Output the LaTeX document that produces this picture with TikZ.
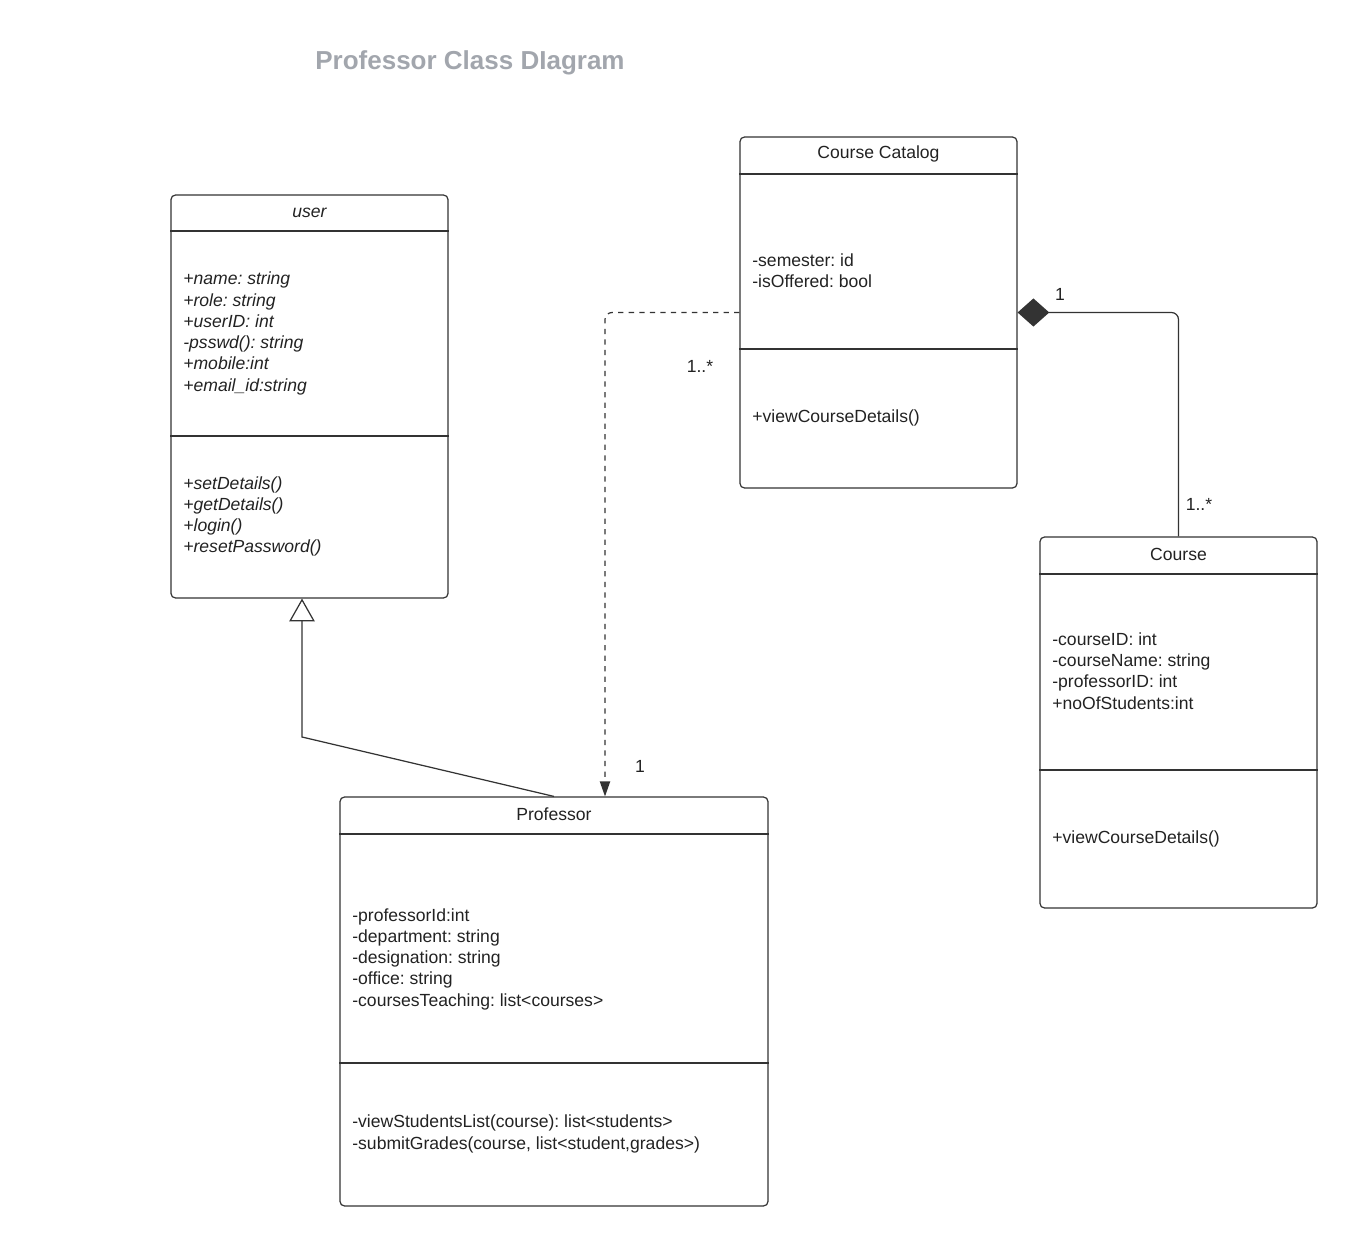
\documentclass[tikz,border=0pt]{standalone}
\usepackage{fontspec}
\setmainfont{Liberation Sans}
\frenchspacing
\usepackage{tikz}
\usetikzlibrary{arrows.meta,calc}

\definecolor{umlline}{HTML}{333333}
\definecolor{umltext}{HTML}{222222}
\definecolor{umltitle}{HTML}{A2A6AD}

\tikzset{
	classbox/.style={draw=umlline, line width=0.7pt, rounded corners=2.5pt, minimum width=5.54cm, inner sep=0pt},
	classname/.style={text=umltext, inner sep=0pt, font=\fontsize{10}{12.1}\selectfont},
	members/.style={anchor=west, align=left, inner sep=0pt, text=umltext, font=\fontsize{10}{12.1}\selectfont},
	mult/.style={text=umltext, inner sep=0pt, font=\fontsize{10}{12.1}\selectfont},
	divider/.style={draw=umlline, line width=0.7pt},
	link/.style={draw=umlline, line width=0.7pt, rounded corners=4pt}
}

\begin{document}
\begin{tikzpicture}[x=0.02cm, y=-0.02cm]
	\useasboundingbox (0,0) rectangle (1360,1247);
	\node [text=umltitle, font=\fontsize{14.8}{17}\selectfont\bfseries] (title) at (470,63) {Professor Class DIagram};

	% user
	\node [classbox, minimum height=8.06cm] (user) at (309.5,396.5) {};
	\node [classname, font=\fontsize{10}{12.1}\selectfont\itshape] (usern) at ($(user.north)+(0,18)$) {user};
	\draw [divider] (user.west |- 0,231) -- (user.east |- 0,231);
	\draw [divider] (user.west |- 0,436) -- (user.east |- 0,436);
	\node [members, font=\fontsize{10}{12.1}\selectfont\itshape] (usera) at (183,333.5) {+name: string\\+role: string\\+userID: int\\-psswd(): string\\+mobile:int\\+email\_id:string};
	\node [members, font=\fontsize{10}{12.1}\selectfont\itshape] (userm) at (183,516.5) {+setDetails()\\+getDetails()\\+login()\\+resetPassword()};

	% Course Catalog
	\node [classbox, minimum height=7.02cm] (cat) at (878.5,312.5) {};
	\node [classname] (catn) at ($(cat.north)+(0,18)$) {Course Catalog};
	\draw [divider] (cat.west |- 0,174) -- (cat.east |- 0,174);
	\draw [divider] (cat.west |- 0,349) -- (cat.east |- 0,349);
	\node [members] (cata) at (752,270.5) {-semester: id\\-isOffered: bool};
	\node [members] (catm) at (752,418) {+viewCourseDetails()};

	% Course
	\node [classbox, minimum height=7.42cm] (course) at (1178.5,722.5) {};
	\node [classname] (coursen) at ($(course.north)+(0,18)$) {Course};
	\draw [divider] (course.west |- 0,574) -- (course.east |- 0,574);
	\draw [divider] (course.west |- 0,770) -- (course.east |- 0,770);
	\node [members] (coursea) at (1052,671) {-courseID: int\\-courseName: string\\-professorID: int\\+noOfStudents:int};
	\node [members] (coursem) at (1052,839) {+viewCourseDetails()};

	% Professor
	\node [classbox, minimum width=8.56cm, minimum height=8.18cm] (prof) at (554,1001.5) {};
	\node [classname] (profn) at ($(prof.north)+(0,18)$) {Professor};
	\draw [divider] (prof.west |- 0,834) -- (prof.east |- 0,834);
	\draw [divider] (prof.west |- 0,1063) -- (prof.east |- 0,1063);
	\node [members] (profa) at (352,959) {-professorId:int\\-department: string\\-designation: string\\-office: string\\-coursesTeaching: list<courses>};
	\node [members] (profm) at (352,1134) {-viewStudentsList(course): list<students>\\-submitGrades(course, list<student,grades>)};

	% connectors
	\coordinate (gen) at ($(user.south)+(-7.5,0)$);
	\coordinate (dep) at ($(prof.north)+(51,0)$);
	\draw [link, rounded corners=0pt, -{Triangle[open, length=13pt, width=14.5pt]}] (prof.north) -- (gen |- 0,737) -- (gen);
	\draw [link, dashed, -{Triangle[length=8.5pt, width=5.8pt]}] (cat.west) -| (dep);
	\draw [link, {Diamond[length=18pt, width=16pt]}-] (cat.east) -| (course.north);

	\node [mult] (m1) at (700,366) {1..*};
	\node [mult] (m2) at (640,766) {1};
	\node [mult] (m3) at (1060,294) {1};
	\node [mult] (m4) at (1199,504) {1..*};
\end{tikzpicture}
\end{document}
